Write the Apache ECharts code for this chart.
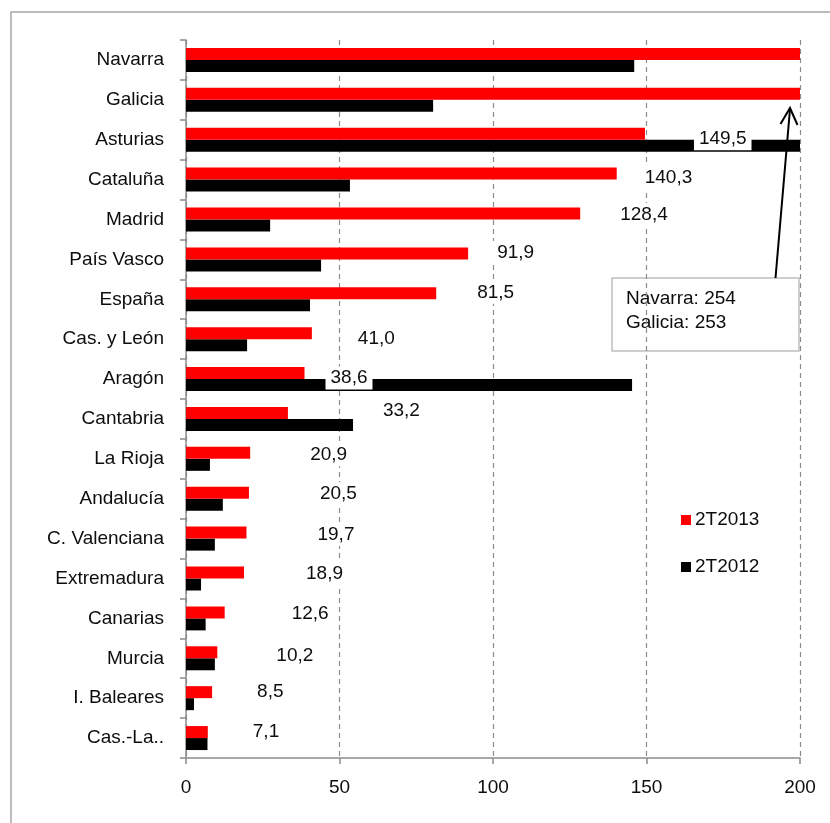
<!DOCTYPE html>
<html>
<head>
<meta charset="utf-8">
<script src="https://cdn.jsdelivr.net/npm/echarts@6/dist/echarts.min.js"></script>
<style>
  html, body { margin: 0; padding: 0; background: #fff; }
  #chart { width: 830px; height: 823px; }
</style>
</head>
<body>
<div id="chart"></div>
<script>
// ---- data ----
var categories = ['Navarra', 'Galicia', 'Asturias', 'Cataluña', 'Madrid', 'País Vasco', 'España',
  'Cas. y León', 'Aragón', 'Cantabria', 'La Rioja', 'Andalucía', 'C. Valenciana', 'Extremadura',
  'Canarias', 'Murcia', 'I. Baleares', 'Cas.-La..'];
var values2T2013 = [254, 253, 149.5, 140.3, 128.4, 91.9, 81.5, 41.0, 38.6, 33.2, 20.9, 20.5, 19.7, 18.9, 12.6, 10.2, 8.5, 7.1];
var values2T2012 = [146, 80.5, 215, 53.4, 27.4, 44, 40.4, 19.9, 145.3, 54.4, 7.8, 12, 9.4, 4.9, 6.4, 9.4, 2.6, 7];
var seriesNames = ['2T2013', '2T2012'];
var xTicks = { min: 0, max: 200, interval: 50 };
var noteLines = ['Navarra: 254', 'Galicia: 253'];

// ---- label placement (style, manual offsets like in the original) ----
var labelOffsets = [null, null, [49, 5], [23, 4], [35, 1], [24, -1], [36, -1], [41, 6], [21, 5], [90, -2],
  [55, 2], [66, 1], [66, 2], [57, 1], [62, 1], [54, 3], [40, 0], [40, 0]];

var FONT = '"Liberation Sans", Arial, sans-serif';
var TXT = '#0d0d0d';

function fmt(v) { return v.toFixed(1).replace('.', ','); }

var redData = values2T2013.map(function (v, i) {
  var off = labelOffsets[i];
  return {
    value: v,
    label: off ? { show: true, offset: off, formatter: fmt(v) } : { show: false }
  };
});

var chart = echarts.init(document.getElementById('chart'), null, { renderer: 'canvas' });
chart.setOption({
  animation: false,
  backgroundColor: '#fff',
  grid: { left: 186, right: 30, top: 40, bottom: 65, containLabel: false },
  legend: {
    orient: 'vertical',
    left: 681,
    top: 510,
    padding: 0,
    itemWidth: 10,
    itemHeight: 10,
    itemGap: 27,
    icon: 'rect',
    textStyle: { fontFamily: FONT, fontSize: 19, color: TXT, lineHeight: 20, padding: [0, 0, 0, -1] },
    data: seriesNames
  },
  xAxis: {
    type: 'value',
    min: xTicks.min, max: xTicks.max, interval: xTicks.interval,
    axisLine: { show: true, lineStyle: { color: '#8c8c8c', width: 1.5 } },
    axisTick: { show: true, length: 6, lineStyle: { color: '#8c8c8c', width: 1.5 } },
    axisLabel: { fontFamily: FONT, fontSize: 19, color: TXT, margin: 20 },
    splitLine: { show: true, lineStyle: { color: '#8c8c8c', type: [5, 4], width: 1.2 } }
  },
  yAxis: {
    type: 'category',
    data: categories,
    inverse: true,
    axisLine: { show: true, lineStyle: { color: '#8c8c8c', width: 1.5 } },
    axisTick: { show: true, length: 6, lineStyle: { color: '#8c8c8c', width: 1.5 } },
    axisLabel: { fontFamily: FONT, fontSize: 19, color: TXT, margin: 22 }
  },
  series: [
    {
      name: seriesNames[0],
      type: 'bar',
      data: redData,
      barWidth: 12,
      barGap: '0%',
      clip: true,
      itemStyle: { color: '#ff0000' },
      label: {
        position: 'right',
        distance: 0,
        fontFamily: FONT,
        fontSize: 19,
        color: TXT,
        backgroundColor: '#fff',
        padding: [2, 5]
      },
      z: 2
    },
    {
      name: seriesNames[1],
      type: 'bar',
      data: values2T2012,
      barWidth: 12,
      barGap: '0%',
      clip: true,
      itemStyle: { color: '#000000' },
      z: 1
    }
  ],
  graphic: [
    {
      type: 'rect',
      shape: { x: 11, y: 12, width: 840, height: 840 },
      style: { fill: null, stroke: '#a6a6a6', lineWidth: 1.5 },
      silent: true, z: 0
    },
    {
      type: 'group',
      z: 100,
      children: [
        {
          type: 'rect',
          shape: { x: 612, y: 278, width: 187, height: 73 },
          style: { fill: '#fff', stroke: '#bfbfbf', lineWidth: 1.5 }
        },
        {
          type: 'text',
          style: {
            x: 626, y: 287, text: noteLines.join('\n'),
            font: '19px ' + FONT, fill: TXT, lineHeight: 24
          }
        },
        {
          type: 'line',
          shape: { x1: 775.5, y1: 278, x2: 790, y2: 109 },
          style: { stroke: '#000', lineWidth: 2 }
        },
        {
          type: 'polyline',
          shape: { points: [[780.5, 124], [790, 108], [797.5, 125]] },
          style: { stroke: '#000', lineWidth: 2, fill: null }
        }
      ]
    }
  ]
});
</script>
</body>
</html>
